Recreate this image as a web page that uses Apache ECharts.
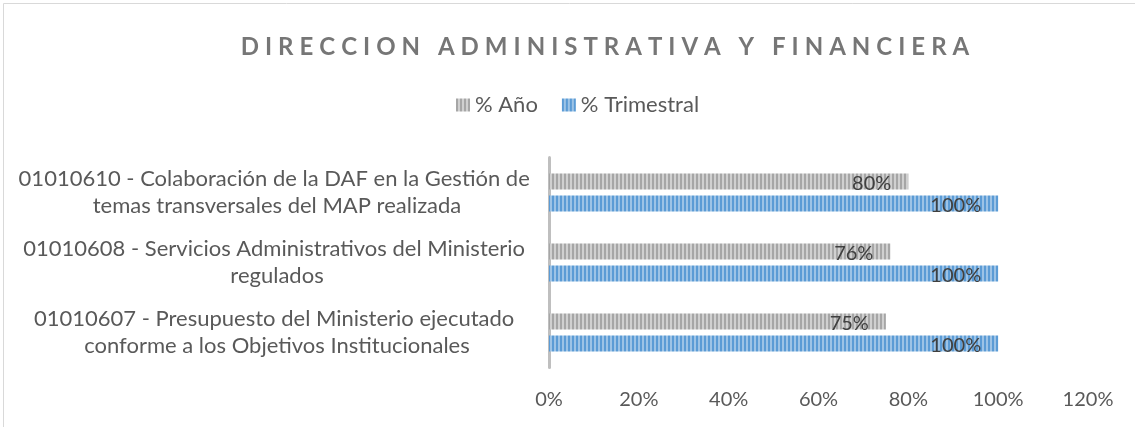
<!DOCTYPE html>
<html>
<head>
<meta charset="utf-8">
<script src="https://cdn.jsdelivr.net/npm/echarts@6/dist/echarts.min.js"></script>
<style>
  html, body { margin: 0; padding: 0; background: #fff; }
  #charts { width: 1135px; height: 427px; }
</style>
</head>
<body>
<div id="charts"></div>
<script>
var titleText = 'DIRECCION ADMINISTRATIVA Y FINANCIERA';
var categories = [
    '01010610 - Colaboración de la DAF en la Gestión de temas transversales del MAP realizada',
    '01010608 - Servicios Administrativos del Ministerio regulados',
    '01010607 - Presupuesto del Ministerio ejecutado conforme a los Objetivos Institucionales'
];
var seriesNames = ['% Año', '% Trimestral'];
var anoValues = [0.80, 0.76, 0.75];
var trimestralValues = [1.00, 1.00, 1.00];
var xTicks = { min: 0, max: 1.2, interval: 0.2 };

// vertical stripe fill like the excel pattern
function stripes(dark, light) {
    var c = document.createElement('canvas');
    c.width = 4; c.height = 4;
    var ctx = c.getContext('2d');
    ctx.fillStyle = light; ctx.fillRect(0, 0, 4, 4);
    ctx.fillStyle = dark; ctx.fillRect(0, 0, 2, 4);
    return { image: c, repeat: 'repeat' };
}

// excel draws the title letter-spaced
function spaced(s) {
    return s.split('').join('\u2009\u2009');
}

function pct(v) { return Math.round(v * 100) + '%'; }

var myChart = echarts.init(document.getElementById('charts'));
var font = 'Lato';

var option = {
    animation: false,
    graphic: [{
        type: 'rect',
        shape: { x: 3.5, y: 3.5, width: 1200, height: 500 },
        style: { fill: 'none', stroke: '#d9d9d9', lineWidth: 1 },
        silent: true
    }],
    title: {
        text: spaced(titleText),
        left: 600,
        textAlign: 'center',
        top: 30,
        textStyle: { fontFamily: font, fontSize: 24, fontWeight: 'bold', color: '#767676' }
    },
    legend: {
        data: seriesNames,
        left: 451,
        top: 89,
        icon: 'rect',
        itemWidth: 14,
        itemHeight: 13,
        itemGap: 24,
        textStyle: { fontFamily: font, fontSize: 22, color: '#595959' }
    },
    grid: { left: 549, right: 47, top: 157.5, bottom: 59.5, containLabel: false },
    xAxis: {
        type: 'value',
        min: xTicks.min,
        max: xTicks.max,
        interval: xTicks.interval,
        axisLine: { show: false },
        axisTick: { show: false },
        splitLine: { show: false },
        axisLabel: {
            margin: 22,
            fontFamily: font,
            fontSize: 20,
            color: '#595959',
            formatter: pct
        }
    },
    yAxis: {
        type: 'category',
        inverse: true,
        data: categories,
        axisLine: { show: true, lineStyle: { color: '#bfbfbf', width: 3 } },
        axisTick: { show: false },
        axisLabel: {
            margin: 272,
            align: 'center',
            width: 545,
            overflow: 'break',
            lineHeight: 27,
            fontFamily: font,
            fontSize: 22,
            color: '#595959'
        }
    },
    series: [{
        name: seriesNames[0],
        type: 'bar',
        data: anoValues,
        barWidth: 16,
        barGap: '38%',
        itemStyle: { color: stripes('#a6a6a6', '#d0d0d0') },
        label: {
            show: true,
            position: 'insideRight',
            distance: 17,
            offset: [0, 2],
            fontFamily: font,
            fontSize: 20,
            color: '#404040',
            formatter: function (p) { return pct(p.value); }
        }
    }, {
        name: seriesNames[1],
        type: 'bar',
        data: trimestralValues,
        barWidth: 16,
        barGap: '38%',
        itemStyle: { color: stripes('#5b9bd5', '#9dc3e6') },
        label: {
            show: true,
            position: 'insideRight',
            distance: 17,
            offset: [0, 2],
            fontFamily: font,
            fontSize: 20,
            color: '#404040',
            formatter: function (p) { return pct(p.value); }
        }
    }]
};
myChart.setOption(option);
</script>
</body>
</html>
